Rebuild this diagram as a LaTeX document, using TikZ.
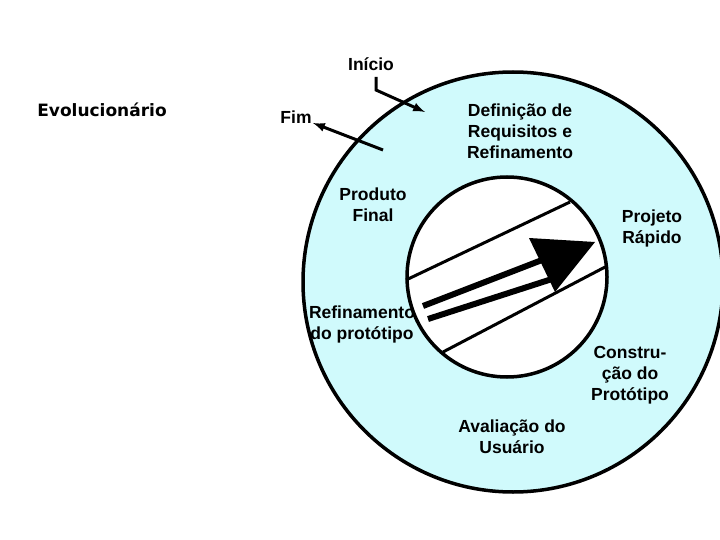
\documentclass[tikz,border=0pt]{standalone}
\usepackage{fontspec}
\setmainfont{Liberation Sans}
\newfontfamily\evofont{DejaVu Sans}
\usetikzlibrary{positioning}
\definecolor{ringcyan}{RGB}{208,250,252}
\tikzset{
    phase/.style={font=\fontsize{17.5}{21}\selectfont\bfseries, align=center},
    ringline/.style={line width=3.5pt},
    flowarrow/.style={line width=3pt, -latex}
}

\begin{document}
\begin{tikzpicture}[x=1pt, y=-1pt]
    \useasboundingbox (0,0) rectangle (720,540);

    % rings
    \filldraw[ringcyan, draw=black, ringline] (513,282) circle (210);
    \filldraw[white, draw=black, ringline] (507,277) circle (100);

    % parallel lines across the inner circle
    \draw[line width=3pt] (406,280) -- (570,202);
    \draw[line width=3pt] (443,352) -- (607,266);

    % big arrow
    \draw[line width=6pt] (423,306) -- (542,260);
    \draw[line width=6pt] (428,319) -- (552,279);
    \fill (529,238) -- (595,242) -- (555,292) -- cycle;

    % labels
    \node[phase] (inicio) at (371,64) {Início};
    \node[phase] (fim) at (296,117) {Fim};
    \node[font=\evofont\fontsize{17}{20}\selectfont\bfseries] (evo) at (102,110) {Evolucionário};
    \node[phase] (req) at (520,131) {Definição de\\Requisitos e\\Refinamento};
    \node[phase] (prod) at (373,205) {Produto\\Final};
    \node[phase] (proj) at (652,228) {Projeto\\Rápido};
    \node[phase] (refin) at (362,324) {Refinamento\\do protótipo};
    \node[phase] (constr) at (630,375) {Constru-\\ção do\\Protótipo};
    \node[phase] (aval) at (512,437) {Avaliação do\\Usuário};

    % start and end arrows
    \coordinate (inicioA) at (376,77);
    \coordinate (inicioB) at (376,90);
    \coordinate (inicioC) at (425,112);
    \coordinate (fimA) at (383,150);
    \coordinate (fimB) at (313,123);
    \draw[flowarrow] (inicioA) -- (inicioB) -- (inicioC);
    \draw[flowarrow] (fimA) -- (fimB);
\end{tikzpicture}
\end{document}
